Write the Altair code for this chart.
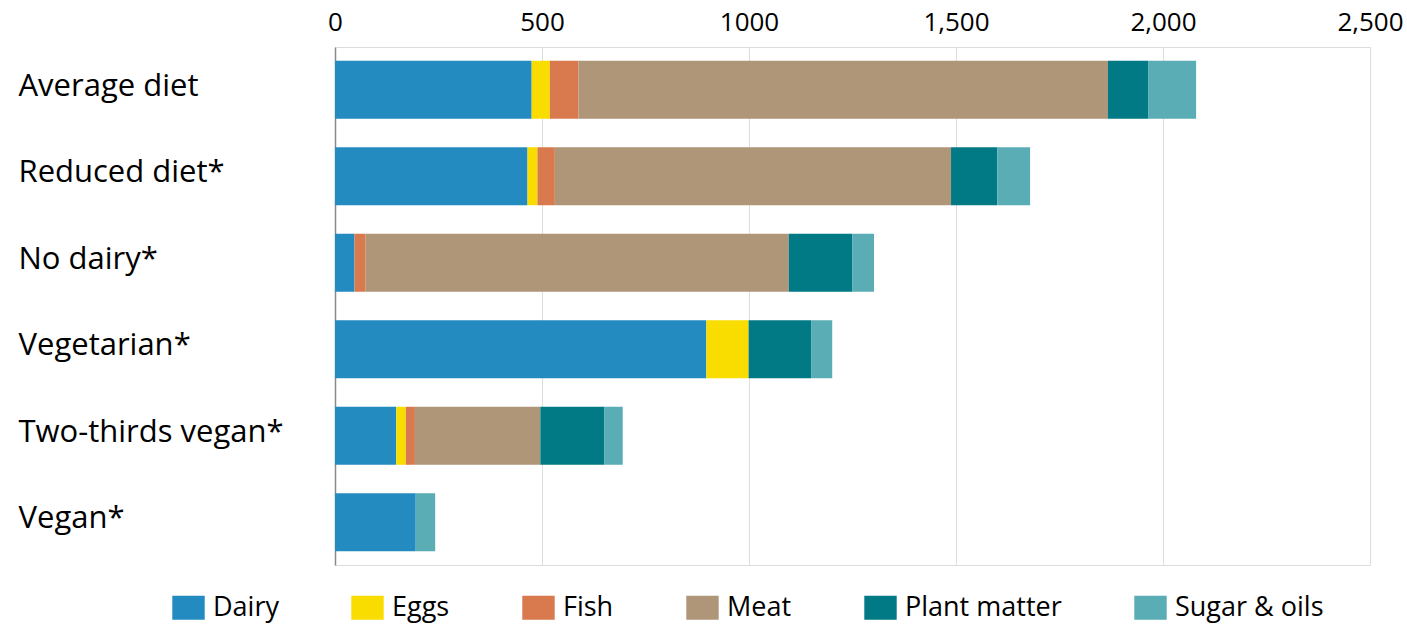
import altair as alt
import pandas as pd

# Diet scenarios, top to bottom
diets = ["Average diet", "Reduced diet*", "No dairy*", "Vegetarian*",
         "Two-thirds vegan*", "Vegan*"]

# Food groups in stacking order with their colours
groups = ["Dairy", "Eggs", "Fish", "Meat", "Plant matter", "Sugar & oils"]
colors = ["#238BC0", "#F9DD00", "#D97A4E", "#AF9679", "#017A85", "#5AADB5"]

# Contribution of each food group per diet
dairy = [475, 465, 47, 897, 148, 195]
eggs = [44, 24, 0, 102, 23, 0]
fish = [69, 42, 27, 0, 22, 0]
meat = [1279, 957, 1022, 0, 303, 0]
plant = [98, 112, 154, 151, 155, 0]
sugar = [115, 79, 52, 51, 44, 47]

series = [dairy, eggs, fish, meat, plant, sugar]

rows = []
for gi, (g, vals) in enumerate(zip(groups, series)):
    for d, v in zip(diets, vals):
        if v > 0:
            rows.append({"diet": d, "group": g, "value": v, "order": gi})
df = pd.DataFrame(rows)

FONT = "Open Sans"

bars = alt.Chart(df).mark_bar(size=58).encode(
    x=alt.X(
        "value:Q",
        stack="zero",
        scale=alt.Scale(domain=[0, 2500], nice=False),
        axis=alt.Axis(
            orient="top",
            values=[0, 500, 1000, 1500, 2000, 2500],
            labelExpr="datum.value == 1000 ? '1000' : format(datum.value, ',')",
            labelFlush=False,
            domain=False,
            ticks=False,
            grid=True,
            gridColor="#dedede",
            gridWidth=1,
            labelFont=FONT,
            labelFontSize=26,
            labelColor="#000000",
            labelPadding=12,
            title=None,
        ),
    ),
    y=alt.Y(
        "diet:N",
        sort=diets,
        scale=alt.Scale(paddingInner=0.333, paddingOuter=0.16),
        axis=alt.Axis(
            orient="left",
            domain=True,
            domainColor="#8a8a8a",
            domainWidth=1.5,
            ticks=False,
            tickSize=0,
            grid=False,
            labelAlign="left",
            labelBaseline="middle",
            labelOffset=-3,
            labelPadding=317,
            labelLimit=330,
            labelFont=FONT,
            labelFontSize=31,
            labelColor="#000000",
            title=None,
        ),
    ),
    color=alt.Color(
        "group:N",
        sort=groups,
        scale=alt.Scale(domain=groups, range=colors),
        legend=alt.Legend(
            orient="none",
            legendX=-160,
            legendY=547,
            direction="horizontal",
            columns=6,
            columnPadding=72,
            title=None,
            symbolType="M-1.35,-1H1.35V1H-1.35Z",
            symbolSize=576,
            symbolStrokeWidth=0,
            symbolOpacity=1,
            labelFont=FONT,
            labelFontSize=27,
            labelColor="#000000",
            labelOffset=11,
            labelLimit=300,
        ),
    ),
    order=alt.Order("order:Q", sort="ascending"),
).properties(
    width=1035,
    height=518,
    autosize=alt.AutoSizeParams(type="none"),
    padding={"left": 335, "top": 47, "right": 37, "bottom": 61},
).configure_view(
    stroke=None
).configure(
    background="#ffffff"
)

chart = bars
chart.save("out.html", embed_options={"renderer": "svg", "actions": False})
